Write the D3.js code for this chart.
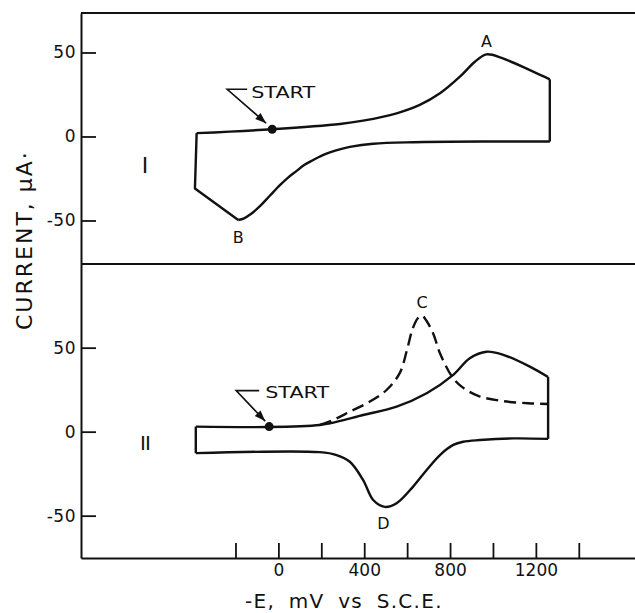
<!DOCTYPE html>
<html>
<head>
<meta charset="utf-8">
<script src="https://cdn.jsdelivr.net/npm/d3@7"></script>
<style>
  body { margin: 0; background: #fff; }
  svg { display: block; }
  text { font-family: "DejaVu Sans", sans-serif; fill: #111; }
</style>
</head>
<body>
<script>
// scan I : [E (mV), I (uA)]
let cycle1Forward = [[-381,2],[-32,4.3],[287,7.4],[395,9.4],[551,13.8],[659,18.8],[753,25.7],[846,35.6],[916,44.5],[970,48.9],[1040,46.8],[1180,39],[1265,34]]
let cycle1Switch = [[1265,34],[1265,-3]]
let cycle1Reverse = [[1265,-3],[1000,-3],[628,-3.4],[442,-4.3],[333,-6.2],[290,-7.5],[240,-9.5],[200,-11.5],[162,-14],[120,-17],[85,-20.5],[45,-24.5],[7,-29],[-40,-35.3],[-86,-41.5],[-130,-46.3],[-160,-48.7],[-187,-49.7]]
let cycle1Tail = [[-187,-49.7],[-389,-31],[-381,2]]

// scan II
let cycle2Forward = [[-385,3],[-43,2.8],[193,4],[240,5],[395,9.9],[551,14.9],[691,22.9],[815,33.8],[892,43.7],[970,47.6],[1048,45.7],[1172,38.7],[1257,32.5]]
let cycle2Switch = [[1257,32.5],[1257,-4.3]]
let cycle2Reverse = [[1257,-4.3],[1094,-4],[939,-5],[861,-6],[815,-7.9],[753,-13.9],[691,-22.8],[628,-32.7],[551,-42.6],[496,-44.8],[442,-40.7],[395,-28.8],[333,-17.9],[271,-13.9],[193,-12.2],[-385,-12.8]]
let cycle2Close = [[-385,-12.8],[-385,3]]
let cycle2Dashed = [[193,4],[263,7.4],[333,11.9],[426,17.9],[504,24.8],[566,35],[600,49],[625,61],[650,67.5],[670,69],[690,66],[721,58.6],[753,46.7],[807,33.2],[854,26.8],[931,21.3],[1040,18.3],[1164,16.9],[1257,16.5]]

let startPoints = [[-29,4.3],[-43,3]]
let peakLabels1 = [{t:"A",e:970,i:48.9,dy:-13},{t:"B",e:-187,i:-49.7,dy:17}]
let peakLabels2 = [{t:"C",e:670,i:69,dy:-14},{t:"D",e:490,i:-44.8,dy:16}]

let xTicks = [-200,0,200,400,600,800,1000,1200,1400]
let xTickLabels = [0,400,800,1200]
let yTicks = [-50,0,50]

let W = 635, H = 613
let svg = d3.select("body").append("svg").attr("width",W).attr("height",H)

let x = d3.scaleLinear().domain([-920,1662]).range([81,635])
let yTop = d3.scaleLinear().domain([-75.9,73.5]).range([264,13])
let yBot = d3.scaleLinear().domain([-75.2,99.8]).range([558,264])

// axes
function yAxis(scale){
  let g = svg.append("g").attr("transform","translate(81,0)")
      .call(d3.axisLeft(scale).tickValues(yTicks).tickSizeInner(-15).tickSizeOuter(0).tickPadding(5)
        .tickFormat(d=>String(d)))
  g.select(".domain").attr("stroke","#111").attr("stroke-width",2)
  g.selectAll(".tick line").attr("stroke","#111").attr("stroke-width",1.8)
  g.selectAll(".tick text").attr("font-size",17).attr("font-family","DejaVu Sans").attr("fill","#111").attr("letter-spacing",0.5)
  return g
}
yAxis(yTop)
yAxis(yBot)

let gx = svg.append("g").attr("transform","translate(0,558)")
    .call(d3.axisBottom(x).tickValues(xTicks).tickSizeInner(-15).tickSizeOuter(0).tickPadding(6)
      .tickFormat(d=>xTickLabels.includes(d)?String(d):""))
gx.select(".domain").attr("stroke","#111").attr("stroke-width",2)
gx.selectAll(".tick line").attr("stroke","#111").attr("stroke-width",1.8)
gx.selectAll(".tick text").attr("font-size",17).attr("font-family","DejaVu Sans").attr("fill","#111")

// frame lines
svg.append("line").attr("x1",81).attr("x2",635).attr("y1",yTop.range()[1]).attr("y2",yTop.range()[1])
   .attr("stroke","#111").attr("stroke-width",2)
svg.append("line").attr("x1",81).attr("x2",635).attr("y1",264).attr("y2",264)
   .attr("stroke","#111").attr("stroke-width",2)

// curves
let smooth = (ys)=>d3.line().x(d=>x(d[0])).y(d=>ys(d[1])).curve(d3.curveCatmullRom.alpha(0.5))
let straight = (ys)=>d3.line().x(d=>x(d[0])).y(d=>ys(d[1]))

function draw(data, gen, dash){
  svg.append("path").datum(data).attr("d",gen)
     .attr("fill","none").attr("stroke","#111").attr("stroke-width",2.4)
     .attr("stroke-linejoin","round").attr("stroke-dasharray",dash||null)
}
draw(cycle1Forward, smooth(yTop))
draw(cycle1Switch, straight(yTop))
draw(cycle1Reverse, smooth(yTop))
draw(cycle1Tail, straight(yTop))

draw(cycle2Forward, smooth(yBot))
draw(cycle2Switch, straight(yBot))
draw(cycle2Reverse, smooth(yBot))
draw(cycle2Close, straight(yBot))
draw(cycle2Dashed, smooth(yBot), "12,6")

// start markers
let starts = [
  {p:startPoints[0], ys:yTop, elbow:[-45,-40], hend:[-25,-40], tip:[-6,-6], text:[-21,-31]},
  {p:startPoints[1], ys:yBot, elbow:[-33,-36], hend:[-10,-36], tip:[-4,-5.5], text:[-4,-29]}
]
starts.forEach(s=>{
  let cx = x(s.p[0]), cy = s.ys(s.p[1])
  svg.append("circle").attr("cx",cx).attr("cy",cy).attr("r",4.5).attr("fill","#111")
  svg.append("path")
     .attr("d",`M${cx+s.hend[0]},${cy+s.hend[1]}H${cx+s.elbow[0]}L${cx+s.tip[0]},${cy+s.tip[1]}`)
     .attr("fill","none").attr("stroke","#111").attr("stroke-width",1.6)
  // arrow head
  let ang = Math.atan2(s.tip[1]-s.elbow[1], s.tip[0]-s.elbow[0])
  let tx = cx+s.tip[0], ty = cy+s.tip[1], L = 11, hw = 4
  let bx = tx-L*Math.cos(ang), by = ty-L*Math.sin(ang)
  svg.append("path")
     .attr("d",`M${tx},${ty}L${bx-hw*Math.sin(ang)},${by+hw*Math.cos(ang)}L${bx+hw*Math.sin(ang)},${by-hw*Math.cos(ang)}Z`)
     .attr("fill","#111")
  svg.append("text").attr("x",cx+s.text[0]).attr("y",cy+s.text[1])
     .attr("font-size",16).attr("textLength",64).attr("lengthAdjust","spacingAndGlyphs").text("START")
})

// peak letters
peakLabels1.forEach(d=>{
  svg.append("text").attr("x",x(d.e)).attr("y",yTop(d.i)+d.dy).attr("dy","0.36em")
     .attr("text-anchor","middle").attr("font-size",16).text(d.t)
})
peakLabels2.forEach(d=>{
  svg.append("text").attr("x",x(d.e)).attr("y",yBot(d.i)+d.dy).attr("dy","0.36em")
     .attr("text-anchor","middle").attr("font-size",16).text(d.t)
})

// panel numerals
svg.append("text").attr("x",145).attr("y",165).attr("dy","0.35em").attr("text-anchor","middle")
   .attr("font-family","Liberation Serif, serif").attr("font-size",22).text("I")
svg.append("text").attr("x",145).attr("y",443).attr("dy","0.35em").attr("text-anchor","middle")
   .attr("font-family","Liberation Serif, serif").attr("font-size",20).attr("letter-spacing",-1).text("II")

// axis titles
svg.append("text").attr("x",245).attr("y",608).attr("font-size",20)
   .attr("letter-spacing",1.3).attr("word-spacing",6).text("-E, mV vs S.C.E.")
svg.append("text").attr("transform","translate(32,330) rotate(-90)").attr("x",0).attr("y",0)
   .attr("font-size",22).attr("letter-spacing",2).text("CURRENT, μA·")
</script>
</body>
</html>
